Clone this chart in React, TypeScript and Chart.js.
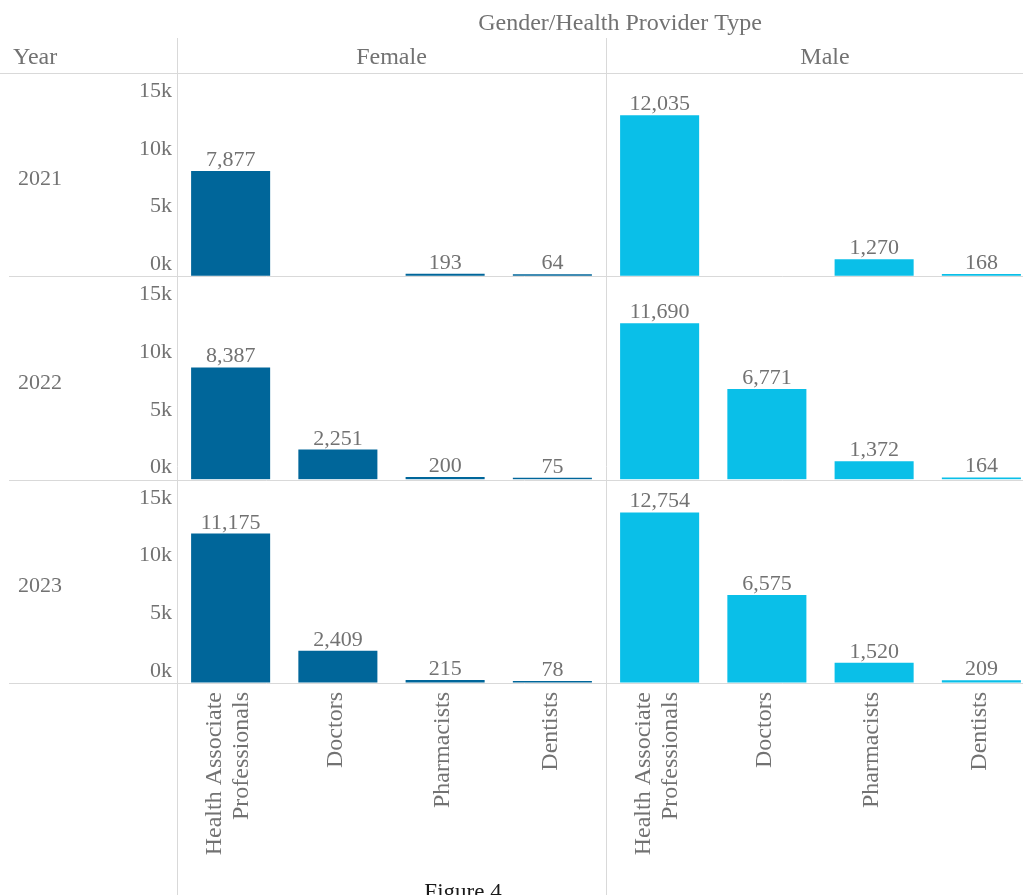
import React, { useEffect, useRef } from 'react';
import { Chart, registerables } from 'chart.js';

Chart.register(...registerables);

// ---------- data ----------
const title = 'Gender/Health Provider Type';
const rowHeader = 'Year';
const genders = ['Female', 'Male'];
const years = ['2021', '2022', '2023'];
const providerTypes: (string | string[])[] = [
  ['Health Associate', 'Professionals'],
  'Doctors',
  'Pharmacists',
  'Dentists',
];
const female2021 = [7877, null, 193, 64];
const male2021 = [12035, null, 1270, 168];
const female2022 = [8387, 2251, 200, 75];
const male2022 = [11690, 6771, 1372, 164];
const female2023 = [11175, 2409, 215, 78];
const male2023 = [12754, 6575, 1520, 209];
const yTickValues = [0, 5000, 10000, 15000];
const yMax = 15200;
const caption = 'Figure 4';

const seriesByYear: Record<string, (number | null)[][]> = {
  '2021': [female2021, male2021],
  '2022': [female2022, male2022],
  '2023': [female2023, male2023],
};

// ---------- style ----------
const FEMALE_COLOR = '#00669a';
const MALE_COLOR = '#0abfe8';
const TEXT = '#727272';
const GRID = '#e6e6e6';
const DIVIDER = '#d9d9d9';
const FONT_FAMILY = '"Liberation Serif", "Times New Roman", serif';
const NUM_FONT = `22px ${FONT_FAMILY}`;
const TXT_FONT = `24px ${FONT_FAMILY}`;

const fmt = (v: number) => v.toLocaleString('en-US');

const trellisPlugin = {
  id: 'trellis',
  beforeDatasetsDraw(chart: any) {
    const { ctx, chartArea } = chart;
    const xs = chart.scales.x;
    ctx.save();
    ctx.strokeStyle = DIVIDER;
    ctx.lineWidth = 1;
    const hline = (x0: number, x1: number, y: number) => {
      ctx.beginPath();
      ctx.moveTo(x0, Math.round(y) + 0.5);
      ctx.lineTo(x1, Math.round(y) + 0.5);
      ctx.stroke();
    };
    const vline = (x: number, y0: number, y1: number) => {
      ctx.beginPath();
      ctx.moveTo(Math.round(x) + 0.5, y0);
      ctx.lineTo(Math.round(x) + 0.5, y1);
      ctx.stroke();
    };
    hline(0, chart.width, chartArea.top);
    years.forEach((y) => {
      const s = chart.scales['y' + y];
      hline(9, chart.width, s.getPixelForValue(0));
    });
    const split = (xs.getPixelForValue(3) + xs.getPixelForValue(4)) / 2;
    vline(chartArea.left, 38, chart.height);
    vline(split, 38, chart.height);
    ctx.restore();
  },
  afterDatasetsDraw(chart: any) {
    const { ctx } = chart;
    ctx.save();
    ctx.font = NUM_FONT;
    ctx.fillStyle = TEXT;
    ctx.textAlign = 'center';
    ctx.textBaseline = 'alphabetic';
    chart.data.datasets.forEach((ds: any, di: number) => {
      const meta = chart.getDatasetMeta(di);
      meta.data.forEach((el: any, i: number) => {
        const v = ds.data[i];
        if (v === null || v === undefined) return;
        ctx.fillText(fmt(v), el.x, el.y - 5);
      });
    });
    ctx.restore();
  },
  afterDraw(chart: any) {
    const { ctx, chartArea } = chart;
    const xs = chart.scales.x;
    ctx.save();
    ctx.fillStyle = TEXT;
    ctx.textBaseline = 'middle';

    // y tick labels, spread inside each row like the reference
    years.forEach((y) => {
      const s = chart.scales['y' + y];
      const h = s.bottom - s.top;
      ctx.font = NUM_FONT;
      ctx.textAlign = 'right';
      yTickValues.forEach((v) => {
        const p = s.getPixelForValue(v);
        const ly = s.top + 16 + ((p - s.top) * (h - 28)) / h;
        ctx.fillText(v / 1000 + 'k', chartArea.left - 5, ly);
      });
      ctx.textAlign = 'left';
      ctx.fillText(y, 18, (s.top + s.bottom) / 2 + 5);
    });

    // x category labels (rotated, reading upwards)
    ctx.font = TXT_FONT;
    const lh = 27;
    const labels = chart.data.labels as (string | string[])[];
    labels.forEach((lab, i) => {
      const lines = Array.isArray(lab) ? lab : [lab];
      const px = xs.getPixelForValue(i);
      lines.forEach((line, k) => {
        const off = (k - (lines.length - 1) / 2) * lh - 2;
        ctx.save();
        ctx.translate(px + off, chartArea.bottom + 9);
        ctx.rotate(-Math.PI / 2);
        ctx.textAlign = 'right';
        ctx.textBaseline = 'middle';
        ctx.fillText(line, 0, 0);
        ctx.restore();
      });
    });

    // headers
    ctx.font = TXT_FONT;
    ctx.textAlign = 'center';
    ctx.fillText(title, 620, 24);
    ctx.textAlign = 'left';
    ctx.fillText(rowHeader, 13, 58);
    ctx.textAlign = 'center';
    const split = (xs.getPixelForValue(3) + xs.getPixelForValue(4)) / 2;
    ctx.fillText(genders[0], (chartArea.left + split) / 2, 58);
    ctx.fillText(genders[1], 825, 58);

    // caption
    ctx.font = `23px ${FONT_FAMILY}`;
    ctx.fillStyle = '#1a1a1a';
    ctx.textBaseline = 'alphabetic';
    ctx.fillText(caption, 463, 899);
    ctx.restore();
  },
};

export default function App() {
  const ref = useRef<HTMLCanvasElement | null>(null);

  useEffect(() => {
    if (!ref.current) return;
    const labels = [...providerTypes, ...providerTypes];
    const colors = [
      ...providerTypes.map(() => FEMALE_COLOR),
      ...providerTypes.map(() => MALE_COLOR),
    ];
    const datasets = years.map((y) => ({
      label: y,
      data: [...seriesByYear[y][0], ...seriesByYear[y][1]],
      backgroundColor: colors,
      yAxisID: 'y' + y,
      grouped: false,
      categoryPercentage: 1,
      barPercentage: 0.737,
      minBarLength: 2,
    }));

    const scales: any = {
      x: {
        type: 'category',
        position: 'bottom',
        grid: { display: false, drawTicks: false },
        border: { display: false },
        ticks: { display: false, autoSkip: false },
        afterFit: (s: any) => {
          s.height = 212;
        },
      },
    };
    // stacked scales: the last defined is drawn on top, so define in reverse
    [...years].reverse().forEach((y) => {
      scales['y' + y] = {
        type: 'linear',
        position: 'left',
        stack: 'rows',
        stackWeight: 1,
        min: 0,
        max: yMax,
        ticks: { display: false, stepSize: 5000, includeBounds: false },
        grid: {
          drawTicks: false,
          color: (c: any) =>
            c.tick && (c.tick.value === 5000 || c.tick.value === 10000) ? GRID : 'rgba(0,0,0,0)',
        },
        border: { display: false },
        afterFit: (s: any) => {
          s.width = 177;
        },
      };
    });

    const chart = new Chart(ref.current, {
      type: 'bar',
      data: { labels, datasets } as any,
      options: {
        responsive: false,
        animation: false,
        devicePixelRatio: 1,
        layout: { padding: { top: 73, left: 0, right: 5, bottom: 0 } },
        plugins: { legend: { display: false }, tooltip: { enabled: false } },
        scales,
      } as any,
      plugins: [trellisPlugin],
    });
    return () => chart.destroy();
  }, []);

  return (
    <div
      style={{
        position: 'absolute',
        left: 0,
        top: 0,
        width: 1023,
        height: 895,
        overflow: 'hidden',
        background: '#fff',
      }}
    >
      <canvas ref={ref} width={1040} height={895} style={{ width: 1040, height: 895, display: 'block' }} />
    </div>
  );
}
